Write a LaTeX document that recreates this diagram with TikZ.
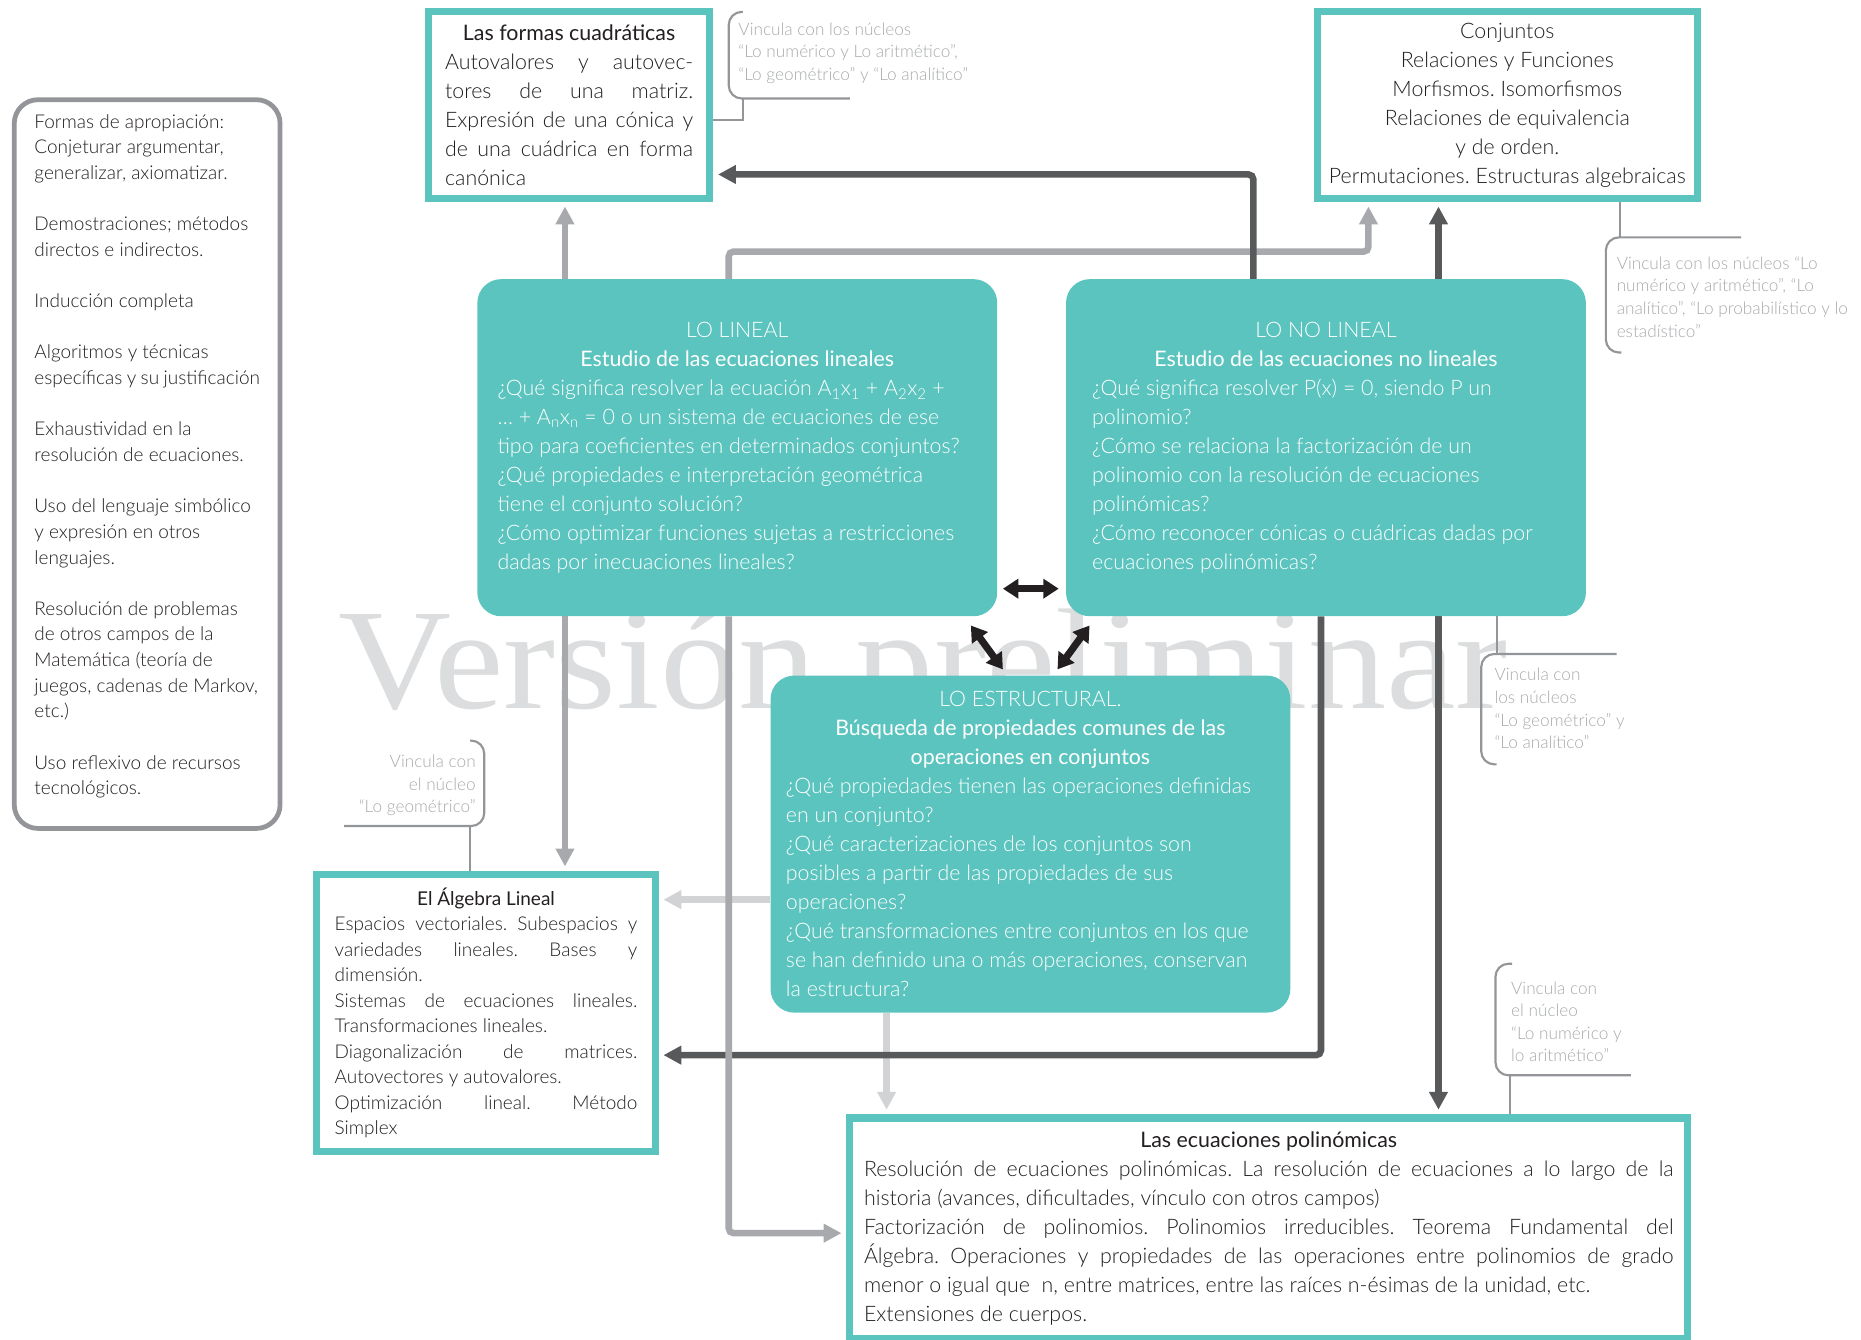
\documentclass[tikz,border=0pt]{standalone}
\usepackage{fontspec}
\setmainfont{Lato}[UprightFont={* Light},BoldFont={* Regular}]
\newfontfamily\wmfont{Liberation Serif}
\usetikzlibrary{arrows.meta}
\setlength{\parindent}{0pt}

\definecolor{tealfill}{HTML}{5BC4BE}
\definecolor{linkgrey}{HTML}{A7A9AC}
\definecolor{darklink}{HTML}{58595B}
\definecolor{palelink}{HTML}{D1D3D4}
\definecolor{notegrey}{HTML}{A7A9AC}
\definecolor{notelinegrey}{HTML}{939598}
\definecolor{inkdark}{HTML}{231F20}
\definecolor{wmgrey}{HTML}{DCDDDE}
\definecolor{panelgrey}{HTML}{939598}

\newcommand\bodysz{\fontsize{18}{24.4}\selectfont}
\newcommand\algsz{\fontsize{16}{21.5}\selectfont}
\newcommand\panelsz{\fontsize{16}{21.6}\selectfont}
\newcommand\notesz{\fontsize{14.5}{19}\selectfont}
% one typeset line: justified, left or centred (font spacing restored)
\newcommand\fontspaces{\spaceskip=0pt\xspaceskip=0pt\relax}
\newcommand\jln[1]{\hbox to\hsize{\fontspaces#1}}
\newcommand\lln[1]{\hbox to\hsize{\fontspaces#1\hfil}}
\newcommand\cln[1]{\hbox to\hsize{\fontspaces\hfil#1\hfil}}

\pgfdeclarelayer{marklayer}
\pgfdeclarelayer{linklayer}
\pgfsetlayers{marklayer,linklayer,main}

\tikzset{
  frame/.style={draw=tealfill, line width=6pt, fill=white, inner ysep=0pt,
    font=\bodysz, text=inkdark, anchor=north west},
  lobox/.style={fill=tealfill, rounded corners=20pt, text=white, inner ysep=0pt,
    font=\bodysz, anchor=north west, minimum width=438pt, minimum height=284pt},
  panel/.style={draw=panelgrey, line width=4pt, rounded corners=20pt, fill=white,
    inner ysep=0pt, font=\panelsz, text=inkdark, anchor=north west},
  note/.style={font=\notesz, text=notegrey, inner sep=0pt, align=left},
  link/.style={line width=5.5pt, rounded corners=4pt,
    -{Triangle[length=15pt,width=15pt]}, shorten >=4pt},
  glink/.style={link, draw=linkgrey},
  dlink/.style={link, draw=darklink},
  plink/.style={link, draw=palelink},
  twoway/.style={draw=inkdark, line width=6pt,
    {Triangle[length=13pt,width=16pt]}-{Triangle[length=13pt,width=16pt]}},
  noteline/.style={draw=notelinegrey, line width=1.8pt, rounded corners=11pt},
}

\begin{document}
\frenchspacing
\begin{tikzpicture}[x=1pt,y=-1pt]
\useasboundingbox (0,0) rectangle (1568,1128.4);

% ---------- framed content boxes ----------
\node[frame, minimum width=237pt, minimum height=157pt, text width=209pt, inner xsep=14pt] (A) at (358,7) {%
\cln{\bfseries Las formas cuadráticas}
\jln{Autovalores y autovec-}
\jln{tores de una matriz.}
\jln{Expresión de una cónica y}
\jln{de una cuádrica en forma}
\lln{canónica}};

\node[frame, minimum width=320pt, minimum height=157pt, text width=308pt, inner xsep=6pt] (B) at (1107,7) {%
\cln{Conjuntos}
\cln{Relaciones y Funciones}
\cln{Morfismos. Isomorfismos}
\cln{Relaciones de equivalencia}
\cln{y de orden.}
\cln{Permutaciones. Estructuras algebraicas}};

\node[frame, font=\algsz, minimum width=285pt, minimum height=233pt, text width=255pt, inner xsep=15pt] (AL) at (264,734) {%
\cln{\bfseries El Álgebra Lineal}
\jln{Espacios vectoriales. Subespacios y}
\jln{variedades lineales. Bases y}
\lln{dimensión.}
\jln{Sistemas de ecuaciones lineales.}
\lln{Transformaciones lineales.}
\jln{Diagonalización de matrices.}
\lln{Autovectores y autovalores.}
\jln{Optimización lineal. Método}
\lln{Simplex}};

\node[frame, minimum width=706pt, minimum height=186pt, text width=682pt, inner xsep=12pt] (PO) at (713,939) {%
\cln{\bfseries Las ecuaciones polinómicas}
\jln{Resolución de ecuaciones polinómicas. La resolución de ecuaciones a lo largo de la}
\lln{historia (avances, dificultades, vínculo con otros campos)}
\jln{Factorización de polinomios. Polinomios irreducibles. Teorema Fundamental del}
\jln{Álgebra. Operaciones y propiedades de las operaciones entre polinomios de grado}
\lln{menor o igual que\ \ n, entre matrices, entre las raíces n-ésimas de la unidad, etc.}
\lln{Extensiones de cuerpos.}};

% ---------- side panel ----------
\node[panel, minimum width=224pt, minimum height=614pt, text width=190pt, inner xsep=17pt] (LP) at (10,82) {%
\lln{Formas de apropiación:}
\lln{Conjeturar argumentar,}
\lln{generalizar, axiomatizar.}
\lln{}
\lln{Demostraciones; métodos}
\lln{directos e indirectos.}
\lln{}
\lln{Inducción completa}
\lln{}
\lln{Algoritmos y técnicas}
\lln{específicas y su justificación}
\lln{}
\lln{Exhaustividad en la}
\lln{resolución de ecuaciones.}
\lln{}
\lln{Uso del lenguaje simbólico}
\lln{y expresión en otros}
\lln{lenguajes.}
\lln{}
\lln{Resolución de problemas}
\lln{de otros campos de la}
\lln{Matemática (teoría de}
\lln{juegos, cadenas de Markov,}
\lln{etc.)}
\lln{}
\lln{Uso reflexivo de recursos}
\lln{tecnológicos.\rule[-16pt]{0pt}{1pt}}};

% ---------- core nodes ----------
\node[lobox, text width=404pt, inner xsep=17pt] (LL) at (402,235) {%
\cln{LO LINEAL}
\cln{\bfseries Estudio de las ecuaciones lineales}
\lln{¿Qué significa resolver la ecuación A\textsubscript{1}x\textsubscript{1} + A\textsubscript{2}x\textsubscript{2} +}
\lln{… + A\textsubscript{n}x\textsubscript{n} = 0 o un sistema de ecuaciones de ese}
\lln{tipo para coeficientes en determinados conjuntos?}
\lln{¿Qué propiedades e interpretación geométrica}
\lln{tiene el conjunto solución?}
\lln{¿Cómo optimizar funciones sujetas a restricciones}
\lln{dadas por inecuaciones lineales?}};

\node[lobox, text width=394pt, inner xsep=22pt] (NL) at (898,235) {%
\cln{LO NO LINEAL}
\cln{\bfseries Estudio de las ecuaciones no lineales}
\lln{¿Qué significa resolver P(x) = 0, siendo P un}
\lln{polinomio?}
\lln{¿Cómo se relaciona la factorización de un}
\lln{polinomio con la resolución de ecuaciones}
\lln{polinómicas?}
\lln{¿Cómo reconocer cónicas o cuádricas dadas por}
\lln{ecuaciones polinómicas?}};

\node[lobox, text width=412pt, inner xsep=13pt] (ES) at (649,569) {%
\cln{LO ESTRUCTURAL.}
\cln{\bfseries Búsqueda de propiedades comunes de las}
\cln{\bfseries operaciones en conjuntos}
\lln{¿Qué propiedades tienen las operaciones definidas}
\lln{en un conjunto?}
\lln{¿Qué caracterizaciones de los conjuntos son}
\lln{posibles a partir de las propiedades de sus}
\lln{operaciones?}
\lln{¿Qué transformaciones entre conjuntos en los que}
\lln{se han definido una o más operaciones, conservan}
\lln{la estructura?}};

% ---------- side notes ----------
\node[note, anchor=north west] (n1) at (622,19) {Vincula con los núcleos\\“Lo numérico y Lo aritmético”,\\“Lo geométrico” y “Lo analítico”};
\node[note, anchor=north west] (n2) at (1362,216) {Vincula con los núcleos “Lo\\numérico y aritmético”, “Lo\\analítico”, “Lo probabilístico y lo\\estadístico”};
\node[note, anchor=north east, align=right] (n3) at (401,636) {Vincula con\\el núcleo\\“Lo geométrico”};
\node[note, anchor=north west] (n4) at (1259,563) {Vincula con\\los núcleos\\“Lo geométrico” y\\“Lo analítico”};
\node[note, anchor=north west] (n5) at (1273,827) {Vincula con\\el núcleo\\“Lo numérico y\\lo aritmético”};

% ---------- watermark ----------
\begin{pgfonlayer}{marklayer}
\node[anchor=base west, inner sep=0pt, text=wmgrey, font=\wmfont\fontsize{121}{121}\selectfont] (wm) at (285,597) {\scalebox{1.09}[1]{Versión preliminar}};
\end{pgfonlayer}

% ---------- connectors ----------
\begin{pgfonlayer}{linklayer}
\draw[plink] (747,0 |- ES.south) -- (747,0 |- PO.north);
\draw[plink] (ES.west |- 0,758) -- (AL.east |- 0,758);
\draw[dlink] (1113,0 |- NL.south) -- (1113,889) -- (AL.east |- 0,889);
\draw[glink] (614,0 |- LL.south) -- (614,1039) -- (PO.west |- 0,1039);
\draw[glink] (476,0 |- LL.north) -- (476,0 |- A.south);
\draw[glink] (476,0 |- LL.south) -- (476,0 |- AL.north);
\draw[glink] (614,0 |- LL.north) -- (614,212) -- (1153,212) -- (1153,0 |- B.south);
\draw[dlink] (1056,0 |- NL.north) -- (1056,147) -- (A.east |- 0,147);
\draw[dlink] (1212,0 |- NL.north) -- (1212,0 |- B.south);
\draw[dlink] (1212,0 |- NL.south) -- (1212,0 |- PO.north);

% note brackets and their stems
\draw[noteline] (626,10) -- (614,10) -- (614,83) -- (716,83);
\draw[noteline, rounded corners=0pt] (A.east |- 0,101) -- (626,101) -- (626,83);
\draw[noteline] (1365,0 |- B.south) -- (1365,200);
\draw[noteline] (1467,200) -- (1353,200) -- (1353,297) -- (1366,297);
\draw[noteline] (290,696) -- (408,696) -- (408,624) -- (396,624);
\draw[noteline] (396,696) -- (396,0 |- AL.north);
\draw[noteline] (1261,0 |- NL.south) -- (1261,551);
\draw[noteline] (1362,551) -- (1248,551) -- (1248,644) -- (1261,644);
\draw[noteline] (1274,812) -- (1260,812) -- (1260,906) -- (1374,906);
\draw[noteline] (1272,906) -- (1272,0 |- PO.north);
\end{pgfonlayer}

% ---------- two-way links between the core nodes ----------
\coordinate (h1) at (845,496);
\coordinate (h2) at (892,496);
\coordinate (l1) at (818,527);
\coordinate (l2) at (845,564);
\coordinate (r1) at (918,527);
\coordinate (r2) at (891,564);
\draw[twoway] (h1) -- (h2);
\draw[twoway] (l1) -- (l2);
\draw[twoway] (r1) -- (r2);
\end{tikzpicture}
\end{document}
